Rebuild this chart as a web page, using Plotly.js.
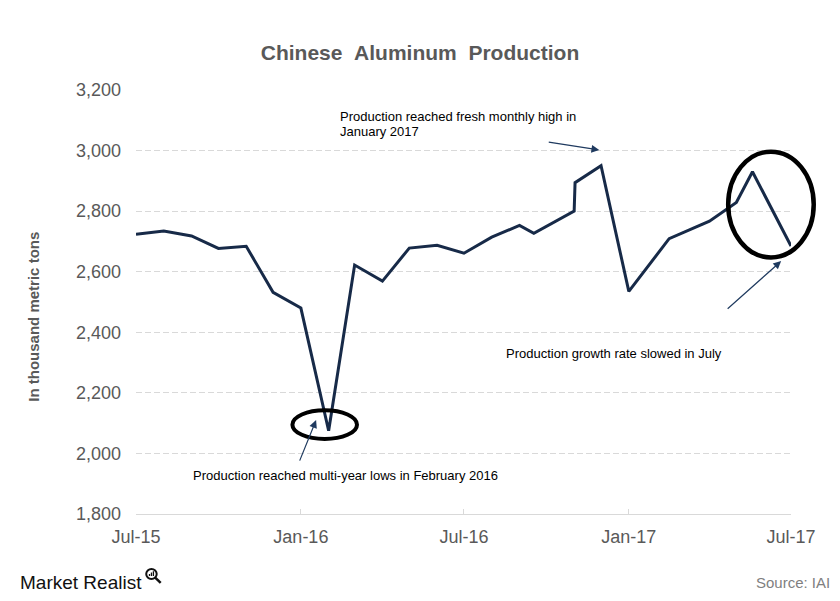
<!DOCTYPE html>
<html>
<head>
<meta charset="utf-8">
<script src="https://cdn.plot.ly/plotly-3.0.1.min.js"></script>
<style>html,body{margin:0;padding:0;background:#fff;}#chart{width:840px;height:601px;}</style>
</head>
<body>
<div id="chart"></div>
<script>
// ---- data ----
var dates = ['2015-07-01','2015-08-01','2015-09-01','2015-10-01','2015-11-01','2015-12-01',
             '2016-01-01','2016-02-01','2016-03-01','2016-04-01','2016-05-01','2016-06-01',
             '2016-07-01','2016-08-01','2016-09-01','2016-09-17','2016-11-01','2016-11-02',
             '2016-12-01','2017-01-01','2017-02-15','2017-04-01','2017-05-01','2017-05-19',
             '2017-07-01'];
var production = [2724, 2734, 2718, 2677, 2684, 2532,
                  2480, 2075, 2622, 2569, 2678, 2687,
                  2661, 2714, 2753, 2727, 2800, 2894,
                  2950, 2535, 2709, 2767, 2829, 2930,
                  2685];
var xTickVals = ['2015-07-01','2016-01-01','2016-07-01','2017-01-01','2017-07-01'];
var xTickText = ['Jul-15','Jan-16','Jul-16','Jan-17','Jul-17'];
var yTickVals = [1800, 2000, 2200, 2400, 2600, 2800, 3000, 3200];

var FONT = 'Liberation Sans, Arial, Helvetica, sans-serif';
var NAVY = '#172a48';
var ARROW = '#1f3a5f';
var NB = '\u00a0';

var trace = {
  x: dates, y: production, type: 'scatter', mode: 'lines',
  line: {color: NAVY, width: 3}, hoverinfo: 'skip'
};

var layout = {
  width: 840, height: 601,
  margin: {l: 136, r: 49, t: 90, b: 87, pad: 0},
  paper_bgcolor: '#fff', plot_bgcolor: '#fff',
  showlegend: false,
  font: {family: FONT, color: '#595959'},
  title: {
    text: 'Chinese' + NB + NB + 'Aluminum' + NB + NB + 'Production',
    font: {family: FONT, size: 21, color: '#595959', weight: 'bold'},
    x: 0.5, xref: 'container', xanchor: 'center',
    y: 1 - 53/601, yref: 'container', yanchor: 'middle'
  },
  xaxis: {
    type: 'date',
    range: ['2015-07-01', '2017-07-01'],
    tickvals: xTickVals, ticktext: xTickText,
    tickfont: {family: FONT, size: 18, color: '#595959'},
    showgrid: false, zeroline: false,
    showline: true, linecolor: '#d9d9d9', linewidth: 1,
    ticks: 'inside', ticklen: 5, tickcolor: '#d9d9d9', tickwidth: 1,
    ticklabelstandoff: 6
  },
  yaxis: {
    range: [1800, 3200],
    tickvals: yTickVals, tickformat: ',d',
    tickfont: {family: FONT, size: 18, color: '#595959'},
    showgrid: true, gridcolor: '#d9d9d9', gridwidth: 1, griddash: '6px,3px',
    zeroline: false, showline: false, ticks: '',
    ticklabelstandoff: 14
  },
  shapes: [
    {type: 'circle', xref: 'paper', yref: 'paper',
     x0: 0.9041, x1: 1.0347, y0: 0.605, y1: 0.8545,
     line: {color: '#000', width: 4.5}, layer: 'above'},
    {type: 'circle', xref: 'paper', yref: 'paper',
     x0: 0.2388, x1: 0.3374, y0: 0.1769, y1: 0.2446,
     line: {color: '#000', width: 4}, layer: 'above'},
    // Market Realist logo magnifier
    {type: 'circle', xref: 'paper', yref: 'paper',
     x0: 0.0156, x1: 0.0316, y0: -0.1533, y1: -0.1297,
     line: {color: '#111', width: 2}},
    {type: 'line', xref: 'paper', yref: 'paper',
     x0: 0.0293, x1: 0.0377, y0: -0.1498, y1: -0.1627,
     line: {color: '#111', width: 2.5}},
    {type: 'line', xref: 'paper', yref: 'paper',
     x0: 0.0206, x1: 0.0206, y0: -0.1462, y1: -0.1415,
     line: {color: '#111', width: 1.3}},
    {type: 'line', xref: 'paper', yref: 'paper',
     x0: 0.0236, x1: 0.0236, y0: -0.1462, y1: -0.1380,
     line: {color: '#111', width: 1.3}},
    {type: 'line', xref: 'paper', yref: 'paper',
     x0: 0.0266, x1: 0.0266, y0: -0.1462, y1: -0.1350,
     line: {color: '#111', width: 1.3}}
  ],
  annotations: [
    {text: 'In thousand metric tons', xref: 'paper', yref: 'paper',
     x: -0.1577, y: 0.4646, textangle: -90, showarrow: false,
     xanchor: 'center', yanchor: 'middle',
     font: {family: FONT, size: 15, color: '#595959', weight: 'bold'}},
    {text: 'Production reached fresh monthly high in', xref: 'paper', yref: 'paper',
     x: 0.3085, y: 0.937, showarrow: false, xanchor: 'left', yanchor: 'middle',
     font: {family: FONT, size: 13, color: '#000'}},
    {text: 'January 2017', xref: 'paper', yref: 'paper',
     x: 0.3085, y: 0.9017, showarrow: false, xanchor: 'left', yanchor: 'middle',
     font: {family: FONT, size: 13, color: '#000'}},
    {text: 'Production growth rate slowed in July', xref: 'paper', yref: 'paper',
     x: 0.5615, y: 0.3797, showarrow: false, xanchor: 'left', yanchor: 'middle',
     font: {family: FONT, size: 13, color: '#000'}},
    {text: 'Production reached multi-year lows in February 2016', xref: 'paper', yref: 'paper',
     x: 0.0841, y: 0.0903, showarrow: false, xanchor: 'left', yanchor: 'middle',
     font: {family: FONT, size: 13, color: '#000'}},
    // arrows
    {text: '', x: '2016-11-29', y: 3002, xref: 'x', yref: 'y',
     showarrow: true, ax: -52, ay: -8, arrowhead: 2, arrowsize: 1.3, arrowwidth: 1.2,
     arrowcolor: ARROW, standoff: 0},
    {text: '', x: '2017-06-20', y: 2635, xref: 'x', yref: 'y',
     showarrow: true, ax: -55, ay: 49, arrowhead: 2, arrowsize: 1.3, arrowwidth: 1.2,
     arrowcolor: ARROW, standoff: 0},
    {text: '', x: '2016-01-18', y: 2110, xref: 'x', yref: 'y',
     showarrow: true, ax: -17, ay: 42, arrowhead: 2, arrowsize: 1.3, arrowwidth: 1.2,
     arrowcolor: ARROW, standoff: 0},
    // footer
    {text: 'Market Realist', xref: 'paper', yref: 'paper',
     x: -0.1806, y: -0.1604, showarrow: false, xanchor: 'left', yanchor: 'middle',
     font: {family: 'Liberation Sans Narrow, Liberation Sans, Arial, sans-serif', size: 19, color: '#111'}},
    {text: 'Source: IAI', xref: 'paper', yref: 'paper',
     x: 1.0621, y: -0.1627, showarrow: false, xanchor: 'right', yanchor: 'middle',
     font: {family: FONT, size: 15, color: '#7f7f7f'}}
  ]
};

Plotly.newPlot('chart', [trace], layout, {displayModeBar: false, staticPlot: true});
</script>
</body>
</html>
